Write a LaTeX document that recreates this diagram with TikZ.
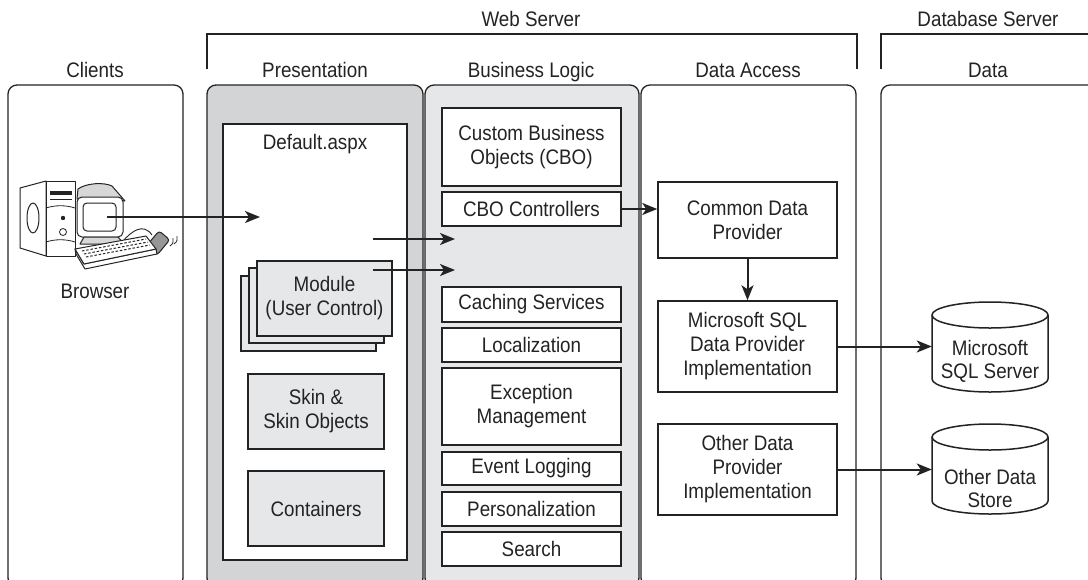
\documentclass[tikz,border=0pt]{standalone}
\usepackage{fontspec}
\setmainfont{Liberation Sans}[FakeStretch=0.895]
\usetikzlibrary{arrows.meta,calc}
\definecolor{presgray}{RGB}{211,212,214}
\definecolor{logicgray}{RGB}{230,231,232}
\definecolor{ink}{RGB}{35,35,35}
\definecolor{mousegray}{RGB}{150,150,150}
\definecolor{shade}{RGB}{215,215,215}
\begin{document}
\begin{tikzpicture}[x=1pt,y=-1pt,
  every node/.style={font=\fontsize{21}{24}\selectfont, text=ink},
  panel/.style={draw=ink, line width=1.3pt, rounded corners=9pt},
  box/.style={draw=ink, line width=1.5pt, fill=white, align=center, inner sep=0pt},
  graybox/.style={box, fill=logicgray},
  heading/.style={anchor=base},
  arr/.style={draw=ink, line width=2pt, -{Stealth[length=15pt,width=12pt,inset=4pt]}},
  bracket/.style={draw=ink, line width=1.3pt},
  icon/.style={draw=ink, line width=1pt, line join=round, fill=white}]

\useasboundingbox (0,0) rectangle (1088,579);
\fill[white] (0,0) rectangle (1088,579);
\clip (0,0) rectangle (1088,579);

% ---- server brackets and headings
\draw[bracket] (207,69) -- (207,34) -- (857,34) -- (857,69);
\draw[bracket] (881,69) -- (881,34) -- (1100,34);
\node[heading] (webserver) at (531,26) {Web Server};
\node[heading] (dbserver) at (988,26) {Database Server};

% ---- tier panels
\draw[panel] (8,85) rectangle (183,587);
\draw[panel, fill=presgray] (207,85) rectangle (423,587);
\draw[panel, fill=logicgray] (425,85) rectangle (639,587);
\draw[panel] (641,85) rectangle (856,587);
\draw[panel] (881,85) rectangle (1110,587);

\node[heading] (clients) at (95,77) {Clients};
\node[heading] (presentation) at (315,77) {Presentation};
\node[heading] (logic) at (531,77) {Business Logic};
\node[heading] (access) at (748,77) {Data Access};
\node[heading] (data) at (988,77) {Data};

% ---- presentation tier
\node[box, minimum width=184pt, minimum height=436pt] (default) at (315,342) {};
\node[heading] (defaultlbl) at (315,149) {Default.aspx};
\node[graybox, minimum width=135pt, minimum height=75pt] (modback) at (308.5,313.5) {};
\node[graybox, minimum width=135pt, minimum height=75pt] (modmid) at (316.5,305.5) {};
\node[graybox, minimum width=135pt, minimum height=75pt] (module) at (324.5,298.5) {Module\\(User Control)};
\node[graybox, minimum width=136pt, minimum height=75pt] (skin) at (316,411.5) {Skin \&\\Skin Objects};
\node[graybox, minimum width=136pt, minimum height=75pt] (containers) at (316,508.5) {Containers};

% ---- business logic tier
\tikzset{logicbox/.style={box, minimum width=179pt}}
\node[logicbox, minimum height=78pt] (cbo) at (531.5,147) {Custom Business\\Objects (CBO)};
\node[logicbox, minimum height=34pt] (ctrl) at (531.5,209) {CBO Controllers};
\node[logicbox, minimum height=35pt] (cache) at (531.5,304.5) {Caching Services};
\node[logicbox, minimum height=34pt] (local) at (531.5,345) {Localization};
\node[logicbox, minimum height=77pt] (exc) at (531.5,406.5) {Exception\\Management};
\node[logicbox, minimum height=33pt] (event) at (531.5,468.5) {Event Logging};
\node[logicbox, minimum height=34pt] (pers) at (531.5,509) {Personalization};
\node[logicbox, minimum height=34pt] (search) at (531.5,549) {Search};

% ---- data access tier
\node[logicbox, minimum height=76pt] (common) at (747.5,220) {Common Data\\Provider};
\node[logicbox, minimum height=91pt] (mssql) at (747.5,346.5) {Microsoft SQL\\Data Provider\\Implementation};
\node[logicbox, minimum height=91pt] (otherdp) at (747.5,469.5) {Other Data\\Provider\\Implementation};

% ---- data stores (cylinders); radii are canvas lengths, so the lower
% arc runs 180 -> 360 to bulge downwards
\foreach \cy in {302,424}{
  \draw[draw=ink, line width=1.5pt, fill=white]
    (932,\cy+13) -- (932,\cy+77) arc (180:360:58pt and 13pt) -- (1048,\cy+13);
  \draw[draw=ink, line width=1.5pt, fill=white] (990,\cy+13) ellipse (58pt and 13pt);
}
\node[align=center, minimum width=116pt, minimum height=90pt, inner sep=0pt, font=\fontsize{21}{23}\selectfont] (sqldb) at (990,361) {Microsoft\\SQL Server};
\node[align=center, minimum width=116pt, minimum height=90pt, inner sep=0pt, font=\fontsize{21}{23}\selectfont] (otherdb) at (990,488) {Other Data\\Store};

% ---- browser workstation
% tower
\draw[icon] (20,188) -- (46,181) -- (46,256) -- (20,248) -- cycle;
\draw[icon] (46,181) -- (75,181) -- (75,256) -- (46,256) -- cycle;
\draw[icon] (33,218) ellipse (6pt and 15pt);
\fill[ink] (50,191) rectangle (72,194.5);
\draw[ink, line width=0.8pt] (50,199) -- (72,199);
\draw[ink, line width=0.8pt] (46,208) .. controls (55,205) and (66,205) .. (75,208);
\draw[ink, line width=0.8pt] (46,242) .. controls (55,239) and (66,239) .. (75,242);
\fill[ink] (63,218) circle (2.2pt);
\draw[ink, line width=0.8pt] (63,232) circle (3.5pt);
% monitor
\draw[icon, fill=shade] (77,199) -- (78,189) .. controls (86,183) and (104,182) .. (112,186) -- (125,201) -- cycle;
\draw[icon, rounded corners=5pt] (77,197) rectangle (123,237);
\draw[icon, rounded corners=4pt] (83,203) rectangle (116,231);
\draw[icon, fill=shade] (84,237) -- (118,237) -- (124,244) -- (80,244) -- cycle;
% cable and mouse
\draw[ink, line width=0.9pt] (123,241) .. controls (131,232) and (143,222) .. (152,235);
\draw[icon, fill=mousegray, rounded corners=3pt, rotate around={-40:(158,243)}] (151,233) rectangle (165,253);
\draw[ink, line width=0.8pt] (170,246) .. controls (173,244) and (174,241) .. (173,238);
\draw[ink, line width=0.8pt] (174,244) .. controls (177,242) and (178,239) .. (177,236);
% keyboard
\draw[icon] (75,249) -- (76,254) -- (85,269) -- (157,254) -- (156,249) -- (84,264) -- cycle;
\draw[icon] (75,249) -- (146,236) -- (156,249) -- (84,264) -- cycle;
\foreach \k in {0,1,2}{
  \draw[ink, line width=1pt, dash pattern=on 2.5pt off 1.8pt]
    ($(82,251)!\k/3!(88,260)$) -- ($(146,239)!\k/3!(152,248)$);
}
\coordinate (screen) at (107,217);
\node[heading] (browser) at (95,298) {Browser};

% ---- request flow
\coordinate (pagein) at (260,217);
\coordinate (pageout) at (373,239);
\coordinate (logicin1) at (455,239);
\coordinate (modout) at (373,270);
\coordinate (logicin2) at (455,270);
\draw[arr] (screen) -- (pagein);
\draw[arr] (pageout) -- (logicin1);
\draw[arr] (modout) -- (logicin2);
\draw[arr] (ctrl.east) -- (ctrl.east -| common.west);
\draw[arr] (common.south) -- (mssql.north);
\draw[arr] (mssql.east) -- (mssql.east -| sqldb.west);
\draw[arr] (otherdp.east) -- (otherdp.east -| otherdb.west);
\end{tikzpicture}
\end{document}
